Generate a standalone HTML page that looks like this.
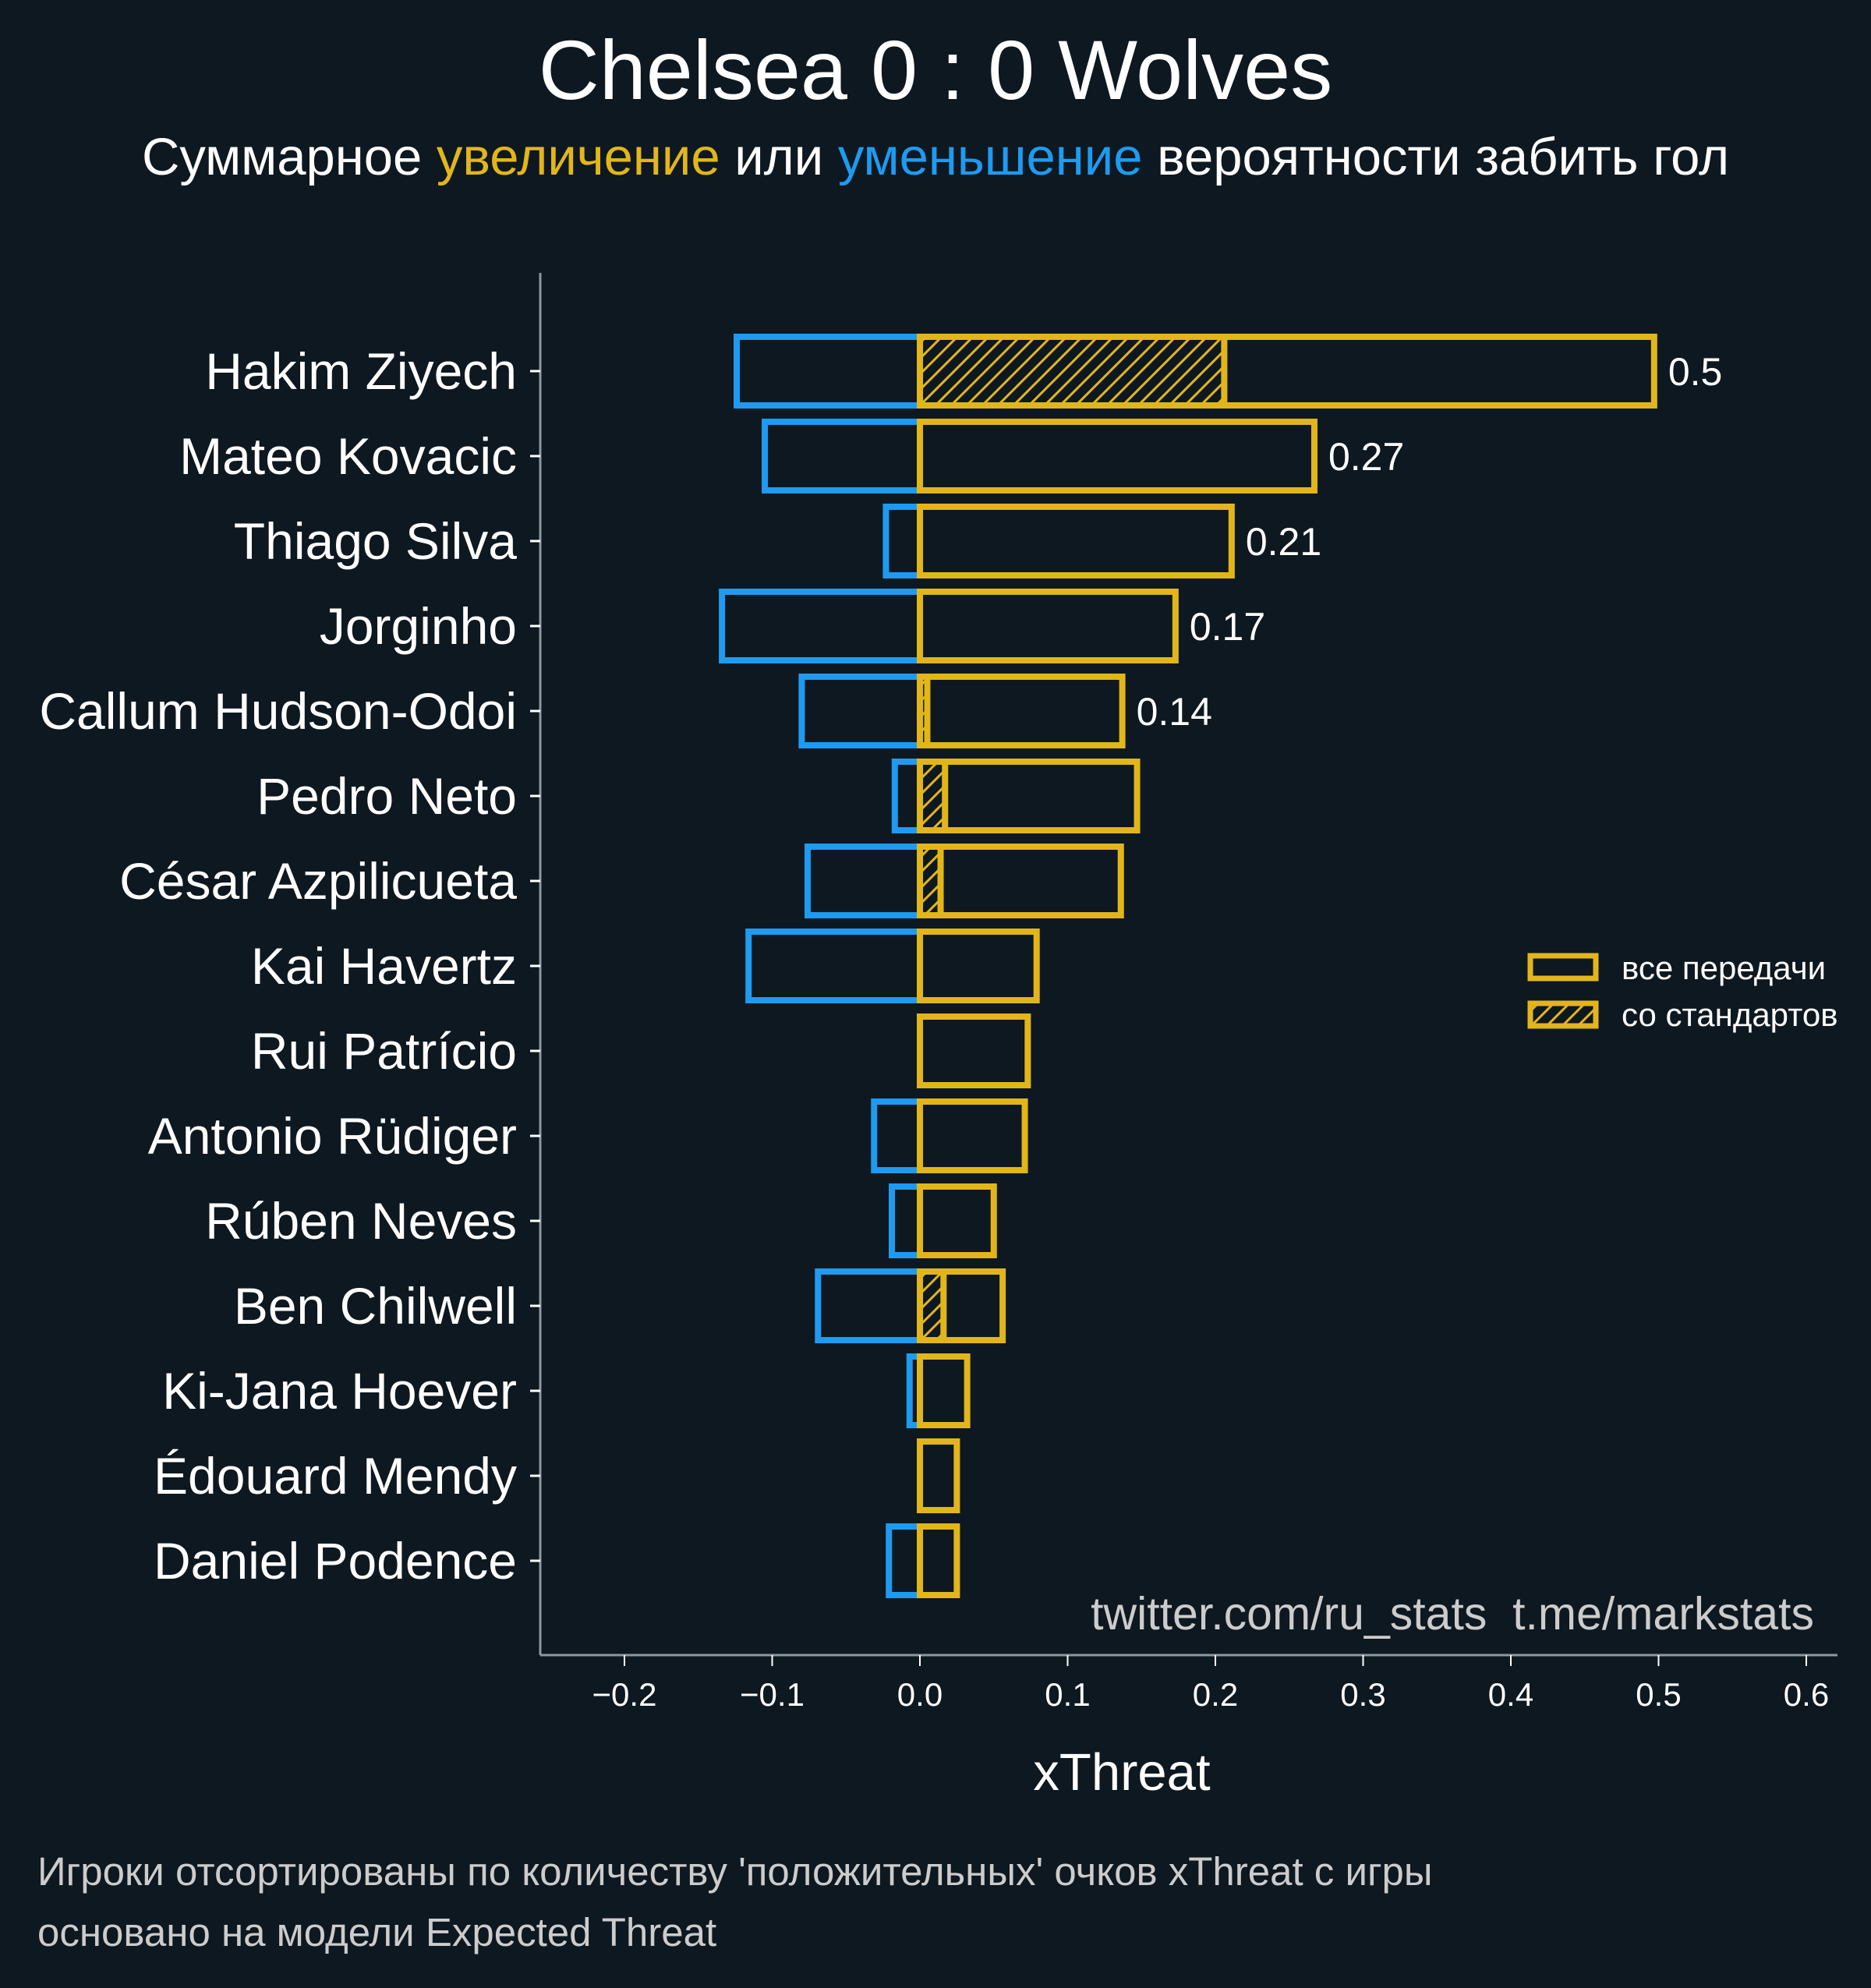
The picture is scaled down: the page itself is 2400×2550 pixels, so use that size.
<!DOCTYPE html>
<html><head><meta charset="utf-8">
<style>
html,body{margin:0;padding:0;background:#0e1821;}
svg{display:block;font-family:"Liberation Sans","DejaVu Sans",sans-serif;}
</style></head>
<body>
<svg id="chart" width="2400" height="2550" viewBox="0 0 2400 2550" xmlns="http://www.w3.org/2000/svg">
<defs>
<pattern id="hatch" patternUnits="userSpaceOnUse" width="20" height="20">
<path d="M-5,5 L5,-5 M0,20 L20,0 M15,25 L25,15" stroke="#e2b61a" stroke-width="3"/>
</pattern>
</defs>
<rect width="2400" height="2550" fill="#0e1821"/>
<text x="1200" y="127" text-anchor="middle" font-size="108" fill="#ffffff">Chelsea 0 : 0 Wolves</text>
<text x="1200" y="224" text-anchor="middle" font-size="67" fill="#ffffff">Суммарное <tspan fill="#e2b61a">увеличение</tspan> или <tspan fill="#1e9bf0">уменьшение</tspan> вероятности забить гол</text>
<g id="plot"></g>
<text x="2327" y="2090" text-anchor="end" font-size="59" fill="#cccccc">twitter.com/ru_stats&#160; t.me/markstats</text>
<text x="1439" y="2296" text-anchor="middle" font-size="67" fill="#ffffff">xThreat</text>
<g>
<rect x="1963" y="1226" width="84" height="29" fill="none" stroke="#e2b61a" stroke-width="7"/>
<text x="2080" y="1256" font-size="42" fill="#ffffff">все передачи</text>
<rect x="1963" y="1287" width="84" height="29" fill="url(#hatch)" stroke="#e2b61a" stroke-width="7"/>
<text x="2080" y="1316" font-size="42" fill="#ffffff">со стандартов</text>
</g>
<text x="48" y="2418" font-size="51" fill="#cccccc">Игроки отсортированы по количеству 'положительных' очков xThreat с игры</text>
<text x="48" y="2496" font-size="51" fill="#cccccc">основано на модели Expected Threat</text>
</svg>
<script>
const players = ["Hakim Ziyech","Mateo Kovacic","Thiago Silva","Jorginho","Callum Hudson-Odoi","Pedro Neto","César Azpilicueta","Kai Havertz","Rui Patrício","Antonio Rüdiger","Rúben Neves","Ben Chilwell","Ki-Jana Hoever","Édouard Mendy","Daniel Podence"];
const positive = [0.497,0.267,0.211,0.173,0.137,0.147,0.136,0.079,0.073,0.071,0.050,0.056,0.032,0.025,0.025];
const negative = [-0.124,-0.105,-0.023,-0.134,-0.080,-0.017,-0.076,-0.116,0,-0.031,-0.019,-0.069,-0.007,0,-0.021];
const setPiece = [0.206,0,0,0,0.005,0.017,0.014,0,0,0,0,0.016,0,0,0];
const valueLabels = ["0.5","0.27","0.21","0.17","0.14"];
const xTicks = [-0.2,-0.1,0.0,0.1,0.2,0.3,0.4,0.5,0.6];
const xTickLabels = ["−0.2","−0.1","0.0","0.1","0.2","0.3","0.4","0.5","0.6"];

const NS="http://www.w3.org/2000/svg";
const X0=1180, PX=1895;
const xs=v=>X0+v*PX;
const ys=i=>476+i*109;
const BH=88;
const g=document.getElementById('plot');
function mk(tag,attrs){const e=document.createElementNS(NS,tag);for(const k in attrs)e.setAttribute(k,attrs[k]);g.appendChild(e);return e;}

let e=mk('line',{x1:693,y1:350,x2:693,y2:2123,stroke:'#8a9aa0','stroke-width':3});


e=mk('line',{x1:693,y1:2123,x2:2357,y2:2123,stroke:'#8a9aa0','stroke-width':3});



xTicks.forEach((t,i)=>{
  const x=xs(t);
  let l=mk('line',{x1:x,y1:2123,x2:x,y2:2137,stroke:'#ffffff','stroke-width':2});
  
  
  let tx=mk('text',{x:x,y:2188,'text-anchor':'middle','font-size':42,fill:'#ffffff'});
  tx.textContent=xTickLabels[i];
  
  
});

players.forEach((p,i)=>{
  const y=ys(i);
  let l=mk('line',{x1:680,y1:y,x2:693,y2:y,stroke:'#ffffff','stroke-width':3});
  
  
  let t=mk('text',{x:663,y:y+23,'text-anchor':'end','font-size':66,fill:'#ffffff'});
  t.textContent=p;
  
  
  if(negative[i]<0){
    let b=mk('rect',{x:xs(negative[i]),y:y-BH/2,width:xs(0)-xs(negative[i]),height:BH,fill:'none',stroke:'#1e9bf0','stroke-width':8});
    
    
  }
  if(setPiece[i]>0){
    let h=mk('rect',{x:xs(0),y:y-BH/2,width:xs(setPiece[i])-xs(0),height:BH,fill:'url(#hatch)',stroke:'#e2b61a','stroke-width':8});
    
    
  }
  let b=mk('rect',{x:xs(0),y:y-BH/2,width:xs(positive[i])-xs(0),height:BH,fill:'none',stroke:'#e2b61a','stroke-width':8});
  
  
  if(i<valueLabels.length){
    let v=mk('text',{x:xs(positive[i])+18,y:y+18,'font-size':50,fill:'#ffffff'});
    v.textContent=valueLabels[i];
    
    
  }
});
</script>
</body></html>
